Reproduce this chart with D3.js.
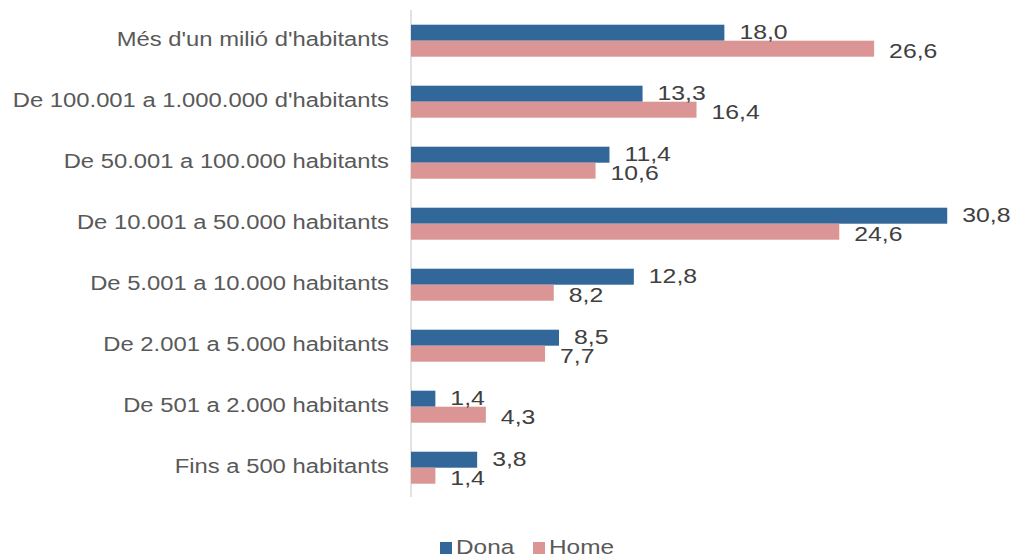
<!DOCTYPE html>
<html><head><meta charset="utf-8">
<script src="https://cdn.jsdelivr.net/npm/d3@7"></script>
<style>body{margin:0;background:#fff}svg{display:block}text{font-family:"Liberation Sans",Arial,sans-serif}</style>
</head><body>
<svg id="c" width="1014" height="557"></svg>
<script>
const categories = ["Més d'un milió d'habitants","De 100.001 a 1.000.000 d'habitants","De 50.001 a 100.000 habitants","De 10.001 a 50.000 habitants","De 5.001 a 10.000 habitants","De 2.001 a 5.000 habitants","De 501 a 2.000 habitants","Fins a 500 habitants"];
const seriesNames = ["Dona","Home"];
const dona = [18.0,13.3,11.4,30.8,12.8,8.5,1.4,3.8];
const home = [26.6,16.4,10.6,24.6,8.2,7.7,4.3,1.4];
const colors = {Dona:"#32679a", Home:"#da9594"};

const svg = d3.select("#c");
const fmt = v => d3.format(".1f")(v).replace(".", ",");

const x = d3.scaleLinear().domain([0, 32]).range([411, 411 + 32 * 17.41]);
const pIn = 29/61;
const y = d3.scaleBand().domain(categories).range([10.2, 498.2]).paddingInner(pIn).paddingOuter(pIn/2);
const ys = d3.scaleBand().domain(seriesNames).range([0, y.bandwidth()]);

const data = categories.map((c,i)=>({cat:c, vals:[{s:"Dona",v:dona[i]},{s:"Home",v:home[i]}]}));

// axis line
svg.append("line").attr("x1", x(0)).attr("x2", x(0)).attr("y1", 10).attr("y2", 497)
  .attr("stroke", "#d9d9d9").attr("stroke-width", 1.5);

// category labels
svg.selectAll("text.cat").data(categories).join("text").attr("class","cat")
  .attr("transform", d => `translate(389,${y(d) + y.bandwidth()/2 + 5.5}) scale(1.19,1)`)
  .attr("text-anchor","end").attr("font-size", 20).attr("fill", "#595959").text(d => d);

const g = svg.selectAll("g.row").data(data).join("g").attr("class","row")
  .attr("transform", d => `translate(0,${y(d.cat)})`);

g.selectAll("rect").data(d => d.vals).join("rect")
  .attr("x", x(0)).attr("y", d => ys(d.s))
  .attr("width", d => x(d.v) - x(0)).attr("height", ys.bandwidth())
  .attr("fill", d => colors[d.s]);

g.selectAll("text.val").data(d => d.vals).join("text").attr("class","val")
  .attr("transform", d => `translate(${x(d.v) + 15},${ys(d.s) + ys.bandwidth() + (d.s === "Dona" ? -1.5 : 1)}) scale(1.18,1)`)
  .attr("font-size", 21).attr("fill", "#404040").text(d => fmt(d.v));

// legend
const lg = svg.append("g");
const legendX = {Dona: 440, Home: 533};
seriesNames.forEach(s => {
  lg.append("rect").attr("x", legendX[s]).attr("y", 542).attr("width", 12).attr("height", 12).attr("fill", colors[s]);
  lg.append("text").attr("transform", `translate(${legendX[s] + 16},554) scale(1.16,1)`)
    .attr("font-size", 21).attr("fill", "#595959").text(s);
});
</script>
</body></html>
